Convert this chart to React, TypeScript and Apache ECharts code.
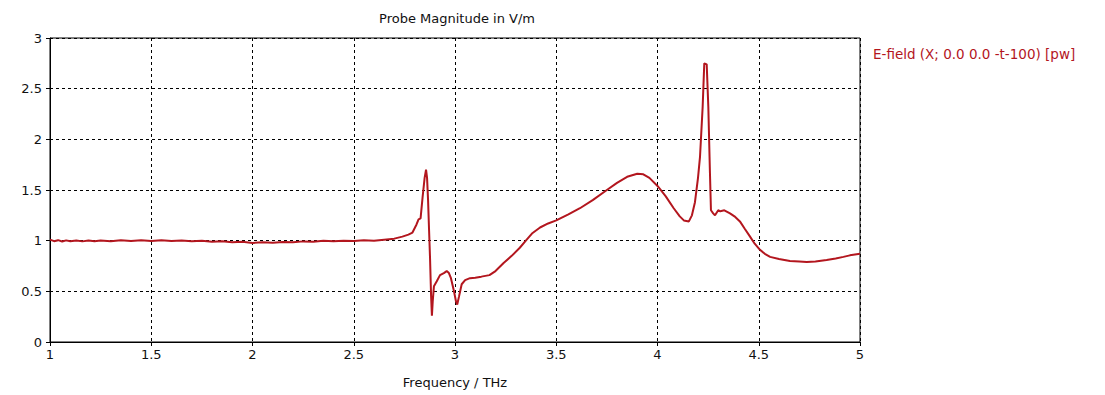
import React, { useEffect, useRef } from "react";
import * as echarts from "echarts";

const freq = [
  1.0, 1.02, 1.04, 1.06, 1.08, 1.1, 1.13, 1.16, 1.19, 1.22, 1.25, 1.3, 1.35, 1.4, 1.45, 1.5, 1.55, 1.6, 1.65, 1.7,
  1.75, 1.8, 1.85, 1.9, 1.95, 2.0, 2.05, 2.1, 2.15, 2.2, 2.25, 2.3, 2.35, 2.4, 2.45, 2.5, 2.55, 2.6, 2.65, 2.7,
  2.74, 2.77, 2.79, 2.81, 2.82, 2.83, 2.84, 2.85, 2.857, 2.862, 2.867, 2.872, 2.877, 2.882, 2.886, 2.89, 2.896,
  2.91, 2.926, 2.945, 2.959, 2.97, 2.98, 2.995, 3.005, 3.011, 3.02, 3.033, 3.05, 3.074, 3.1, 3.13, 3.17, 3.2,
  3.24, 3.28, 3.32, 3.354, 3.38, 3.42, 3.46, 3.5, 3.56, 3.617, 3.68, 3.75, 3.8, 3.85, 3.9, 3.93, 3.96, 4.0, 4.04,
  4.08, 4.11, 4.13, 4.155, 4.17, 4.185, 4.2, 4.21, 4.223, 4.231, 4.243, 4.251, 4.259, 4.264, 4.275, 4.284, 4.3,
  4.31, 4.33, 4.358, 4.38, 4.407, 4.43, 4.457, 4.48, 4.506, 4.53, 4.556, 4.6, 4.654, 4.7, 4.737, 4.78, 4.835,
  4.88, 4.918, 4.95, 5.0,
];
const magnitude = [
  1.01, 0.995, 1.005, 0.992, 1.003, 0.994, 1.002, 0.993, 1.001, 0.994, 1.002, 0.995, 1.003, 0.996, 1.004, 0.997,
  1.003, 0.996, 1.002, 0.995, 1.0, 0.99, 0.995, 0.985, 0.99, 0.978, 0.985, 0.98, 0.988, 0.985, 0.993, 0.99, 0.998,
  0.995, 1.0, 0.997, 1.003, 1.0, 1.01, 1.02, 1.04, 1.06, 1.08, 1.16, 1.21, 1.22, 1.43, 1.62, 1.7, 1.62, 1.4, 1.1,
  0.81, 0.45, 0.26, 0.4, 0.55, 0.6, 0.66, 0.68, 0.7, 0.68, 0.63, 0.5, 0.4, 0.37, 0.45, 0.57, 0.61, 0.63, 0.635,
  0.645, 0.66, 0.7, 0.78, 0.85, 0.93, 1.01, 1.07, 1.13, 1.17, 1.2, 1.26, 1.32, 1.4, 1.5, 1.57, 1.63, 1.66, 1.655,
  1.62, 1.54, 1.44, 1.32, 1.24, 1.2, 1.19, 1.25, 1.38, 1.62, 1.83, 2.32, 2.75, 2.74, 2.32, 1.67, 1.3, 1.27, 1.25,
  1.3, 1.29, 1.3, 1.27, 1.24, 1.19, 1.12, 1.04, 0.97, 0.91, 0.87, 0.84, 0.82, 0.8, 0.795, 0.79, 0.795, 0.81,
  0.825, 0.84, 0.855, 0.87,
];

const titleText = "Probe Magnitude in V/m";
const legendText = "E-field (X; 0.0 0.0 -t-100) [pw]";
const xAxisName = "Frequency / THz";
const lineColor = "#b3161e";
const font = "Tahoma, 'DejaVu Sans', sans-serif";

export default function App() {
  const ref = useRef<HTMLDivElement>(null);
  useEffect(() => {
    if (!ref.current) return;
    const chart = echarts.init(ref.current, null, { renderer: "svg" });
    const data = freq.map((f, i) => [f, magnitude[i]]);
    chart.setOption({
      animation: false,
      backgroundColor: "#ffffff",
      textStyle: { fontFamily: font },
      grid: { left: 50, right: 245, top: 38, bottom: 53, show: true, borderColor: "#000", borderWidth: 1 },
      graphic: [
        {
          type: "text",
          x: 457,
          y: 18,
          style: { text: titleText, fill: "#111", font: `13px ${font}`, align: "center", verticalAlign: "middle" },
        },
        {
          type: "text",
          x: 873,
          y: 54,
          style: { text: legendText, fill: lineColor, font: `13.5px ${font}`, align: "left", verticalAlign: "middle" },
        },
      ],
      xAxis: {
        type: "value",
        min: 1,
        max: 5,
        interval: 0.5,
        name: xAxisName,
        nameLocation: "middle",
        nameGap: 34,
        nameTextStyle: { color: "#111", fontSize: 13, fontFamily: font },
        axisLine: { show: true, onZero: false, lineStyle: { color: "#000", width: 1 } },
        axisTick: { show: true, length: 4, lineStyle: { color: "#000" } },
        axisLabel: { color: "#111", fontSize: 13, margin: 6, fontFamily: font },
        splitLine: { show: true, lineStyle: { color: "#000", type: [3, 3], width: 1 } },
      },
      yAxis: {
        type: "value",
        min: 0,
        max: 3,
        interval: 0.5,
        axisLine: { show: true, lineStyle: { color: "#000", width: 1 } },
        axisTick: { show: true, length: 4, lineStyle: { color: "#000" } },
        axisLabel: { color: "#111", fontSize: 13, margin: 8, fontFamily: font },
        splitLine: { show: true, lineStyle: { color: "#000", type: [3, 3], width: 1 } },
      },
      series: [
        {
          type: "line",
          data,
          showSymbol: false,
          symbol: "none",
          lineStyle: { color: lineColor, width: 2 },
          itemStyle: { color: lineColor },
        },
      ],
    });
    return () => chart.dispose();
  }, []);
  return <div ref={ref} style={{ width: 1105, height: 395, position: "absolute", left: 0, top: 0 }} />;
}
